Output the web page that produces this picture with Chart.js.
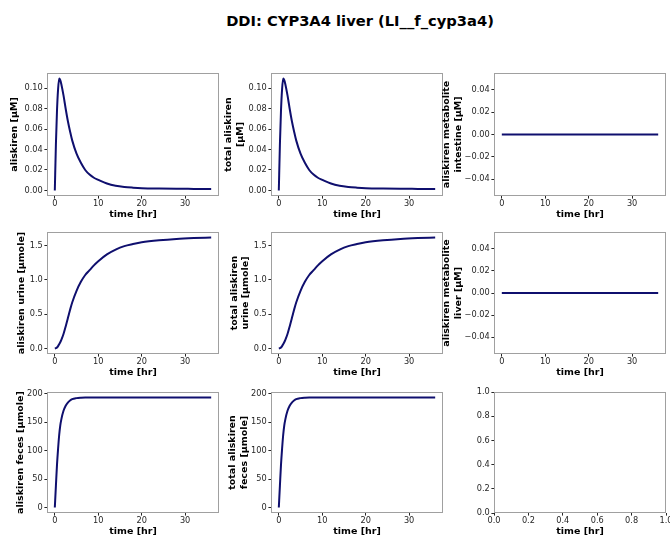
<!DOCTYPE html>
<html>
<head>
<meta charset="utf-8">
<script src="https://cdn.jsdelivr.net/npm/chart.js@4.4.1/dist/chart.umd.min.js"></script>
<style>
  body { margin: 0; background: #fff; }
  #fig { position: relative; width: 670px; height: 536px; overflow: hidden; font-family: "DejaVu Sans", sans-serif; }
  #suptitle { position: absolute; left: 0; width: 720px; top: 12px; text-align: center; font-weight: bold; font-size: 14.7px; color: #000; }
  canvas { position: absolute; }
</style>
</head>
<body>
<div id="fig">
  <div id="suptitle">DDI: CYP3A4 liver (LI__f_cyp3a4)</div>
</div>
<script>
// simulation time points [hr]
const time = [0, 0.25, 0.5, 0.75, 1, 1.25, 1.5, 2, 2.5, 3, 3.5, 4, 5, 6, 7, 8, 9, 10, 12, 14, 16, 18, 20, 24, 28, 32, 36];

// aliskiren in plasma [µM]
const plasmaConc = [0, 0.045, 0.078, 0.099, 0.1095, 0.108, 0.104, 0.093, 0.080, 0.068, 0.058, 0.049, 0.036, 0.027, 0.020, 0.0155, 0.0124, 0.0104, 0.0068, 0.0046, 0.0034, 0.0027, 0.0022, 0.0018, 0.0016, 0.0015, 0.0014];
// cumulative aliskiren in urine [µmole]
const urineAmount = [0, 0.004, 0.015, 0.035, 0.06, 0.09, 0.125, 0.21, 0.32, 0.44, 0.56, 0.67, 0.84, 0.97, 1.07, 1.14, 1.21, 1.27, 1.37, 1.44, 1.49, 1.52, 1.545, 1.575, 1.595, 1.607, 1.615];
// cumulative aliskiren in feces [µmole]
const fecesAmount = [0, 38, 75, 103, 127, 144, 155, 170, 179, 184.5, 188, 190.5, 192.3, 193, 193.3, 193.4, 193.4, 193.4, 193.4, 193.4, 193.4, 193.4, 193.4, 193.4, 193.4, 193.4, 193.4];
// metabolite (intestine / liver) [µM]
const metaboliteIntestine = time.map(() => 0);
const metaboliteLiver = time.map(() => 0);

// tick values and labels
const timeTicks = [0, 10, 20, 30];
const timeTickLabels = ['0', '10', '20', '30'];
const concTicks = [0, 0.02, 0.04, 0.06, 0.08, 0.10];
const concTickLabels = ['0.00', '0.02', '0.04', '0.06', '0.08', '0.10'];
const metTicks = [-0.04, -0.02, 0, 0.02, 0.04];
const metTickLabels = ['\u22120.04', '\u22120.02', '0.00', '0.02', '0.04'];
const urineTicks = [0, 0.5, 1.0, 1.5];
const urineTickLabels = ['0.0', '0.5', '1.0', '1.5'];
const fecesTicks = [0, 50, 100, 150, 200];
const fecesTickLabels = ['0', '50', '100', '150', '200'];
const unitTicks = [0, 0.2, 0.4, 0.6, 0.8, 1.0];
const unitTickLabels = ['0.0', '0.2', '0.4', '0.6', '0.8', '1.0'];

const panels = [
  { yTitle: 'aliskiren [μM]', values: plasmaConc, yTicks: concTicks, yLabels: concTickLabels },
  { yTitle: ['total aliskiren', '[μM]'], values: plasmaConc, yTicks: concTicks, yLabels: concTickLabels },
  { yTitle: ['aliskiren metabolite', 'intestine [μM]'], values: metaboliteIntestine, yTicks: metTicks, yLabels: metTickLabels, yRange: [-0.055, 0.055] },
  { yTitle: 'aliskiren urine [μmole]', values: urineAmount, yTicks: urineTicks, yLabels: urineTickLabels },
  { yTitle: ['total aliskiren', 'urine [μmole]'], values: urineAmount, yTicks: urineTicks, yLabels: urineTickLabels },
  { yTitle: ['aliskiren metabolite', 'liver [μM]'], values: metaboliteLiver, yTicks: metTicks, yLabels: metTickLabels, yRange: [-0.055, 0.055] },
  { yTitle: 'aliskiren feces [μmole]', values: fecesAmount, yTicks: fecesTicks, yLabels: fecesTickLabels },
  { yTitle: ['total aliskiren', 'feces [μmole]'], values: fecesAmount, yTicks: fecesTicks, yLabels: fecesTickLabels },
  { yTitle: '', values: null, yTicks: unitTicks, yLabels: unitTickLabels, yRange: [0, 1], xRange: [0, 1], xTicks: unitTicks, xLabels: unitTickLabels }
];

// grid geometry (plot area of each subplot)
const colLeft = [47, 271, 494];
const axisW = [47, 50, 55];
const rowTop = [73, 232, 392];
const rowH = [123, 122, 121];
const plotW = 172;
const padTop = 10, padRight = 15, xAxisH = 24;
// x centre of first y-title line, relative to canvas left
const yTitleX = [15, 8, 8, 22, 13.6, 8, 20.5, 12, 0];

const lineColor = '#0f0f6e';
const tickColor = '#262626';
const spineColor = '#a0a0a0';

const framePlugin = {
  id: 'frame',
  afterDraw(chart) {
    const { left, top, right, bottom } = chart.chartArea;
    const ctx = chart.ctx;
    ctx.save();
    ctx.strokeStyle = spineColor;
    ctx.lineWidth = 1;
    ctx.strokeRect(left + 0.5, top + 0.5, right - left - 1, bottom - top - 1);
    ctx.restore();
  }
};

function padRange(vals) {
  const lo = Math.min(...vals), hi = Math.max(...vals);
  const m = (hi - lo) * 0.05;
  return [lo - m, hi + m];
}

const fig = document.getElementById('fig');
panels.forEach((p, i) => {
  const col = i % 3, row = Math.floor(i / 3);
  const canvas = document.createElement('canvas');
  const w = axisW[col] + plotW + padRight;
  const h = padTop + rowH[row] + xAxisH;
  canvas.width = w; canvas.height = h;
  canvas.style.width = w + 'px'; canvas.style.height = h + 'px';
  canvas.style.left = (colLeft[col] - axisW[col]) + 'px';
  canvas.style.top = (rowTop[row] - padTop) + 'px';
  fig.appendChild(canvas);

  const yRange = p.yRange || padRange(p.values);
  const xRange = p.xRange || padRange(time);
  const xTicks = p.xTicks || timeTicks;
  const xLabels = p.xLabels || timeTickLabels;
  const datasets = p.values ? [{
    data: time.map((t, k) => ({ x: t, y: p.values[k] })),
    borderColor: lineColor,
    borderWidth: 2,
    pointRadius: 0,
    fill: false,
    cubicInterpolationMode: 'monotone'
  }] : [];

  const titleFont = { family: 'DejaVu Sans', size: 9.5, weight: 'bold', lineHeight: 1.2 };
  const tickFont = { family: 'DejaVu Sans', size: 8.2, lineHeight: 1 };

  new Chart(canvas, {
    type: 'line',
    data: { datasets },
    plugins: [framePlugin],
    options: {
      responsive: false,
      animation: false,
      layout: { padding: { top: padTop, right: padRight, left: 0, bottom: 0 } },
      plugins: { legend: { display: false }, tooltip: { enabled: false } },
      scales: {
        x: {
          type: 'linear',
          min: xRange[0], max: xRange[1],
          afterBuildTicks: axis => { axis.ticks = xTicks.map(v => ({ value: v })); },
          afterFit: axis => { axis.height = xAxisH; },
          ticks: {
            autoSkip: false, maxRotation: 0, padding: 1.2,
            color: tickColor, font: tickFont,
            callback: (v, k) => xLabels[k]
          },
          grid: { drawOnChartArea: false, tickLength: 2.6, color: tickColor },
          border: { display: false },
          title: { display: true, text: 'time [hr]', color: '#000', font: titleFont, padding: { top: 0, bottom: 0 } }
        },
        y: {
          type: 'linear',
          min: yRange[0], max: yRange[1],
          afterBuildTicks: axis => { axis.ticks = p.yTicks.map(v => ({ value: v })); },
          afterFit: axis => { axis.width = axisW[col]; },
          ticks: {
            autoSkip: false, padding: 1.7,
            color: tickColor, font: tickFont,
            callback: (v, k) => p.yLabels[k]
          },
          grid: { drawOnChartArea: false, tickLength: 2.6, color: tickColor },
          border: { display: false },
          title: {
            display: p.yTitle !== '', text: p.yTitle, color: '#000', font: titleFont,
            padding: { top: Math.max(0, yTitleX[i] - 5.7), bottom: 0 }
          }
        }
      }
    }
  });
});
</script>
</body>
</html>
